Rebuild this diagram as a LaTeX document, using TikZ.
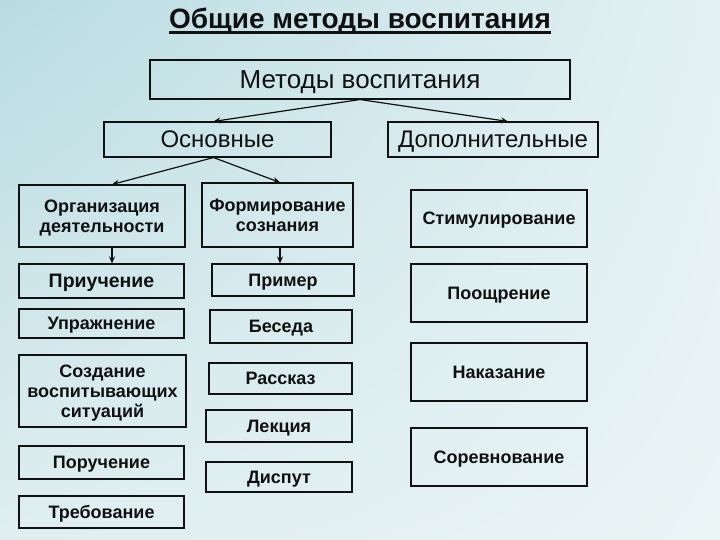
\documentclass[tikz,border=0pt]{standalone}
\usepackage{fontspec}
\setmainfont{Liberation Sans}
\usetikzlibrary{arrows.meta,shadings}
\definecolor{vospInk}{HTML}{111111}
\definecolor{vospBgTL}{HTML}{B8DCE2}
\definecolor{vospBgTR}{HTML}{E4F1F3}
\definecolor{vospBgBL}{HTML}{E0EEF0}
\definecolor{vospBgBR}{HTML}{E9F4F5}
\tikzset{
  every picture/.style={font=\rmfamily, text=vospInk},
  vosp box/.style={draw=vospInk, line width=1.1pt, align=center,
    inner sep=0pt, text depth=0pt},
  vosp head/.style={vosp box, font=\fontsize{26}{28}\selectfont},
  vosp sub/.style={vosp box, font=\fontsize{24}{26}\selectfont},
  vosp item/.style={vosp box, font=\bfseries\fontsize{18}{20}\selectfont},
  vosp arrow/.style={-{Stealth[length=7pt,width=6pt]},
    draw=vospInk, line width=1.2pt}
}

\begin{document}
\begin{tikzpicture}[x=1pt,y=-1pt]
  \shade[upper left=vospBgTL, upper right=vospBgTR, lower left=vospBgBL, lower right=vospBgBR] (0,0) rectangle (720,540);
  \useasboundingbox (0,0) rectangle (720,540);
  \node[font=\bfseries\fontsize{28}{30}\selectfont, inner sep=0pt, anchor=base] (title) at (360,29) {Общие методы воспитания};
  \draw[line width=2.6pt, vospInk] ([yshift=-3.5pt]title.base west) -- ([yshift=-3.5pt]title.base east);
  % top levels
  \node[vosp head, minimum width=420, minimum height=39] (metody) at (360,79.5) {Методы воспитания};
  \node[vosp sub, minimum width=227, minimum height=35] (osnovnye) at (217.5,139.5) {Основные};
  \node[vosp sub, minimum width=210, minimum height=35] (dopoln) at (493,139.5) {Дополнительные};
  % left column
  \node[vosp item, minimum width=166, minimum height=62] (organiz) at (102,216) {Организация\\деятельности};
  \node[vosp item, minimum width=165, minimum height=34, font=\bfseries\fontsize{19.5}{21}\selectfont] (priuch) at (101.5,281) {Приучение};
  \node[vosp item, minimum width=165, minimum height=29] (uprazh) at (101.5,323.5) {Упражнение};
  \node[vosp item, minimum width=167, minimum height=72] (sozdanie) at (102.5,391) {Создание\\воспитывающих\\ситуаций};
  \node[vosp item, minimum width=165, minimum height=33] (poruch) at (101.5,462.5) {Поручение};
  \node[vosp item, minimum width=165, minimum height=32] (trebov) at (101.5,512) {Требование};
  % middle column
  \node[vosp item, minimum width=151, minimum height=64] (formir) at (277.5,215) {Формирование\\сознания};
  \node[vosp item, minimum width=142, minimum height=32] (primer) at (283,280) {Пример};
  \node[vosp item, minimum width=142, minimum height=33] (beseda) at (281,326.5) {Беседа};
  \node[vosp item, minimum width=143, minimum height=31] (rasskaz) at (280.5,378.5) {Рассказ};
  \node[vosp item, minimum width=146, minimum height=32] (lekciya) at (279,426) {Лекция};
  \node[vosp item, minimum width=146, minimum height=30] (disput) at (279,477) {Диспут};
  % right column
  \node[vosp item, minimum width=176, minimum height=57] (stimul) at (499,218.5) {Стимулирование};
  \node[vosp item, minimum width=176, minimum height=58] (pooshch) at (499,293) {Поощрение};
  \node[vosp item, minimum width=176, minimum height=58] (nakaz) at (499,372) {Наказание};
  \node[vosp item, minimum width=176, minimum height=58] (sorevn) at (499,457) {Соревнование};
  % arrows
  \draw[vosp arrow] (metody.south) -- ([xshift=-4]osnovnye.north);
  \draw[vosp arrow] (metody.south) -- ([xshift=15]dopoln.north);
  \draw[vosp arrow] ([xshift=-4]osnovnye.south) -- ([xshift=10]organiz.north);
  \draw[vosp arrow] ([xshift=-4]osnovnye.south) -- ([xshift=2.5]formir.north);
  \draw[vosp arrow] ([xshift=10]organiz.south) -- ([xshift=10]organiz.south |- priuch.north);
  \draw[vosp arrow] ([xshift=2.5]formir.south) -- ([xshift=2.5]formir.south |- primer.north);
\end{tikzpicture}
\end{document}
